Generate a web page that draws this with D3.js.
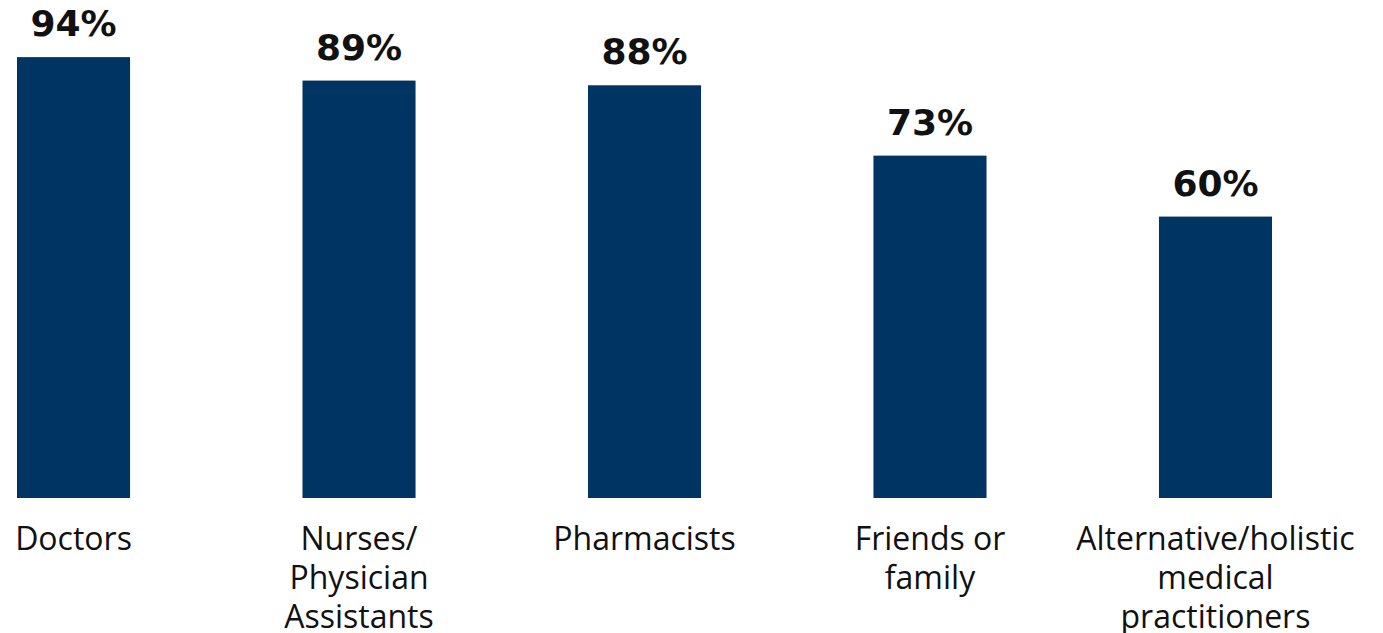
<!DOCTYPE html>
<html><head><meta charset="utf-8">
<script src="https://cdn.jsdelivr.net/npm/d3@7"></script>
<style>html,body{margin:0;padding:0;background:#fff;}svg{display:block;}</style>
</head><body>
<svg id="chart" width="1383" height="633"></svg>
<script>
const categories = ["Doctors", "Nurses/\nPhysician\nAssistants", "Pharmacists", "Friends or\nfamily", "Alternative/holistic\nmedical\npractitioners"];
const values = [94, 89, 88, 73, 60];

const svg = d3.select("#chart");
const x = d3.scaleBand().domain(categories).range([17, 1272]).paddingInner(0.604).paddingOuter(0);
const y = d3.scaleLinear().domain([0, 100]).range([498, 29]);

svg.selectAll("rect.bar").data(values).join("rect")
  .attr("class", "bar")
  .attr("x", (d, i) => x(categories[i]))
  .attr("y", d => y(d))
  .attr("width", x.bandwidth())
  .attr("height", d => y(0) - y(d))
  .attr("fill", "#003462");

svg.selectAll("text.val").data(values).join("text")
  .attr("class", "val")
  .attr("x", (d, i) => x(categories[i]) + x.bandwidth() / 2)
  .attr("y", d => y(d) - 21)
  .attr("text-anchor", "middle")
  .attr("font-family", "'DejaVu Sans', sans-serif")
  .attr("font-weight", "bold")
  .attr("font-size", 36)
  .attr("fill", "#111")
  .text(d => d + "%");

const xAxis = d3.axisBottom(x).tickSize(0).tickPadding(0);
const g = svg.append("g").attr("transform", "translate(0,498)").call(xAxis);
g.select(".domain").remove();
g.selectAll(".tick text").each(function(d) {
  const t = d3.select(this);
  t.text(null).attr("y", 0).attr("dy", null)
    .attr("font-family", "'Open Sans', sans-serif")
    .attr("font-size", 32)
    .attr("fill", "#111");
  d.split("\n").forEach((line, i) => {
    t.append("tspan").attr("x", 0).attr("y", 52 + i * 39).text(line);
  });
});
</script>
</body></html>
